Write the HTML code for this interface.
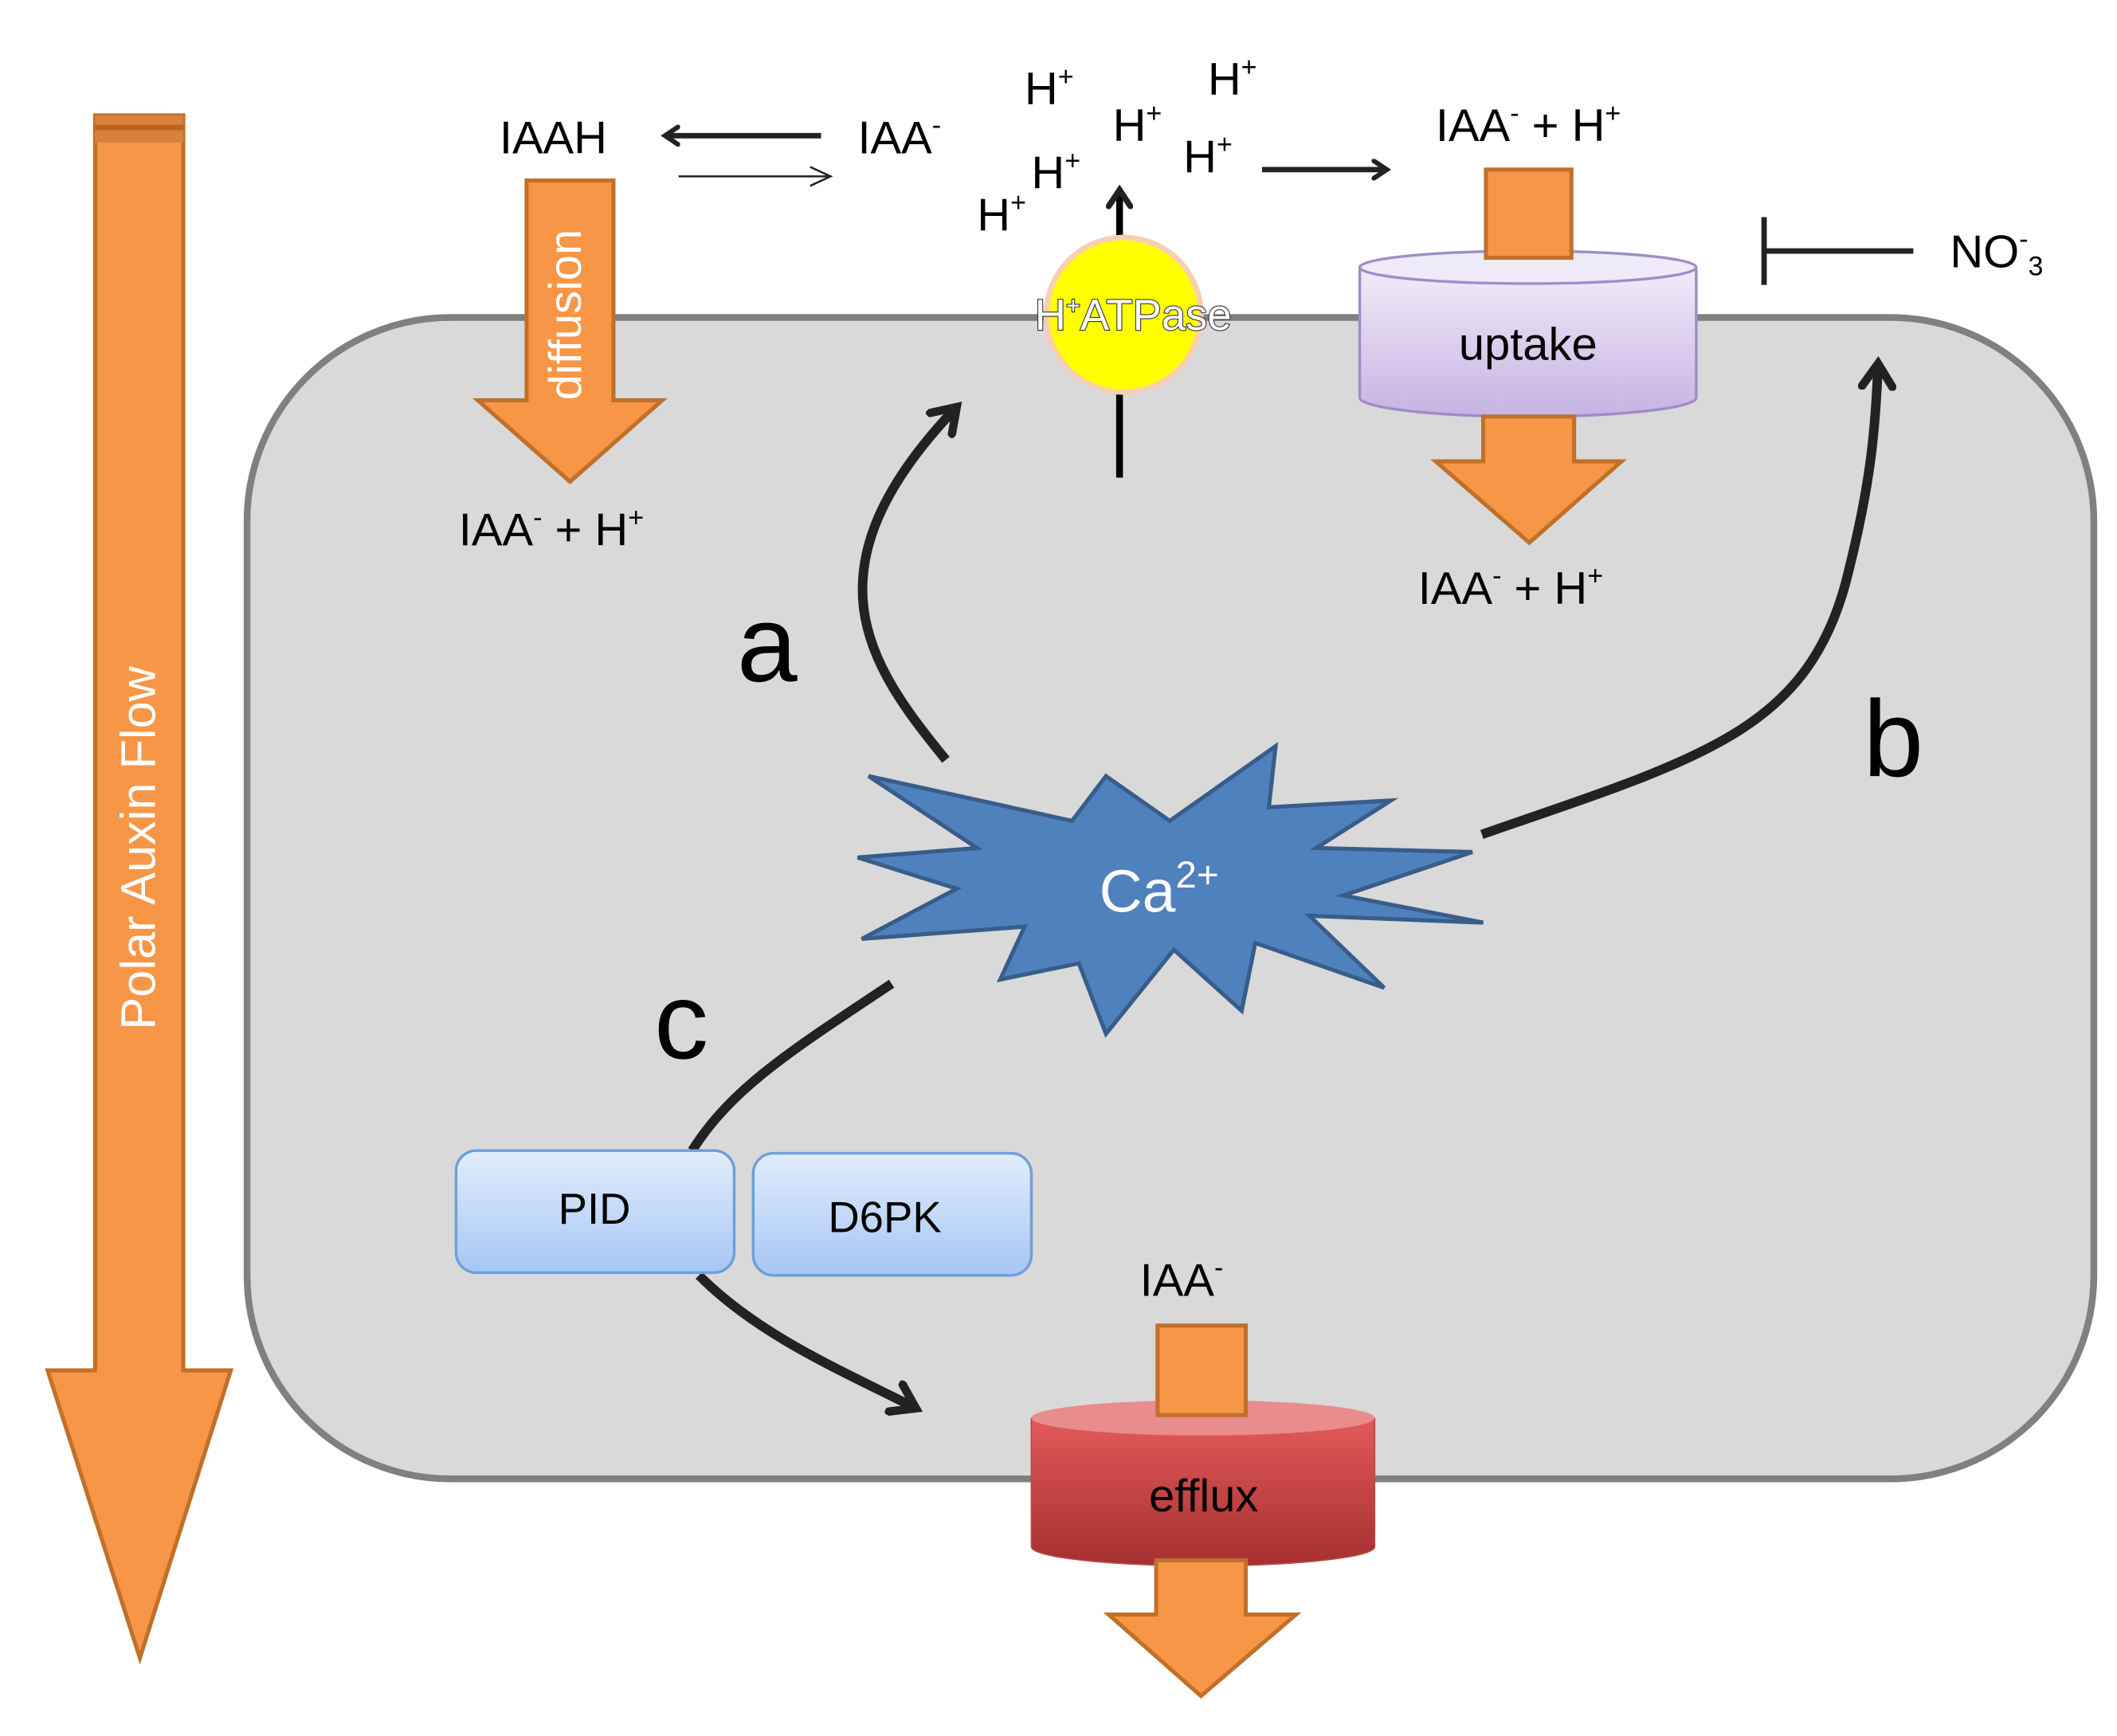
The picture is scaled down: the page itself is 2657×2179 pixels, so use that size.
<!DOCTYPE html>
<html><head><style>html,body{margin:0;padding:0;background:#fff}svg{display:block}</style></head>
<body>
<svg width="2657" height="2179" viewBox="0 0 1560 1279.5" xmlns="http://www.w3.org/2000/svg" font-family="'Liberation Sans', 'DejaVu Sans', sans-serif">
<defs>
<linearGradient id="pur" x1="0" y1="0" x2="0" y2="1"><stop offset="0" stop-color="#f1ecf8"/><stop offset="1" stop-color="#c6b3e2"/></linearGradient>
<linearGradient id="red" x1="0" y1="0" x2="0" y2="1"><stop offset="0" stop-color="#e35a5a"/><stop offset="1" stop-color="#a52f2f"/></linearGradient>
<linearGradient id="blu" x1="0" y1="0" x2="0" y2="1"><stop offset="0" stop-color="#e1edfc"/><stop offset="1" stop-color="#a6c6f4"/></linearGradient>
<marker id="ah" viewBox="0 0 10 10" refX="7" refY="5" markerWidth="4" markerHeight="4" orient="auto"><path d="M1,1 L7,5 L1,9" fill="none" stroke="#222" stroke-width="2.2" stroke-linecap="round"/></marker>
</defs>
<!-- polar auxin flow -->
<path d="M70,85 H135 V1010 H170 L103,1222 L35,1010 H70 Z" fill="#f79646" stroke="#c0702a" stroke-width="3"/>
<rect x="70" y="85" width="65" height="20" fill="#d9803a"/>
<rect x="70" y="92" width="65" height="4" fill="#b8661e"/>
<text transform="translate(114,625) rotate(-90)" text-anchor="middle" fill="#fff" font-size="36">Polar Auxin Flow</text>
<!-- cell -->
<rect x="182" y="234" width="1361" height="856" rx="150" fill="#d9d9d9" stroke="#808080" stroke-width="5"/>
<!-- top left -->
<text x="368" y="113" font-size="34">IAAH</text>
<line x1="605" y1="100" x2="490" y2="100" stroke="#222" stroke-width="4" marker-end="url(#ah)"/>
<line x1="500" y1="130" x2="610" y2="130" stroke="#222" stroke-width="1.5"/>
<path d="M597,123 L612,130 L597,137" fill="none" stroke="#222" stroke-width="1.5"/>
<text x="632" y="113" font-size="34">IAA<tspan font-size="20" dy="-14">-</tspan></text>
<path d="M388,133 H452 V295 H488 L420,355 L352,295 H388 Z" fill="#f79646" stroke="#c0702a" stroke-width="3"/>
<text transform="translate(428,232) rotate(-90)" text-anchor="middle" fill="#fff" font-size="34">diffusion</text>
<text x="338" y="402" font-size="34">IAA<tspan font-size="20" dy="-14">-</tspan><tspan dy="14"> + H</tspan><tspan font-size="20" dy="-14">+</tspan></text>
<!-- H+ -->
<g font-size="34">
<text x="755" y="77">H<tspan font-size="20" dy="-14">+</tspan></text>
<text x="890" y="70">H<tspan font-size="20" dy="-14">+</tspan></text>
<text x="820" y="104">H<tspan font-size="20" dy="-14">+</tspan></text>
<text x="760" y="139">H<tspan font-size="20" dy="-14">+</tspan></text>
<text x="872" y="127">H<tspan font-size="20" dy="-14">+</tspan></text>
<text x="720" y="170">H<tspan font-size="20" dy="-14">+</tspan></text>
</g>
<line x1="825" y1="178" x2="825" y2="140" stroke="#000" stroke-width="5" marker-end="url(#ah)"/>
<line x1="825" y1="290" x2="825" y2="352" stroke="#000" stroke-width="5"/>
<circle cx="828" cy="232" r="57" fill="#ffff00" stroke="#f8cfb0" stroke-width="4"/>
<text x="835" y="243" text-anchor="middle" font-size="32" fill="#fff" stroke="#333" stroke-width="1.3" paint-order="stroke">H<tspan font-size="18" dy="-12">+</tspan><tspan dy="12">ATPase</tspan></text>
<line x1="930" y1="125" x2="1022" y2="125" stroke="#222" stroke-width="4" marker-end="url(#ah)"/>
<text x="1058" y="104" font-size="34">IAA<tspan font-size="20" dy="-14">-</tspan><tspan dy="14"> + H</tspan><tspan font-size="20" dy="-14">+</tspan></text>
<!-- uptake -->
<path d="M1002,197 V293 A124,14 0 0 0 1250,293 V197" fill="url(#pur)" stroke="#a08cc8" stroke-width="2"/>
<ellipse cx="1126" cy="197" rx="124" ry="12" fill="#efeaf7" stroke="#a08cc8" stroke-width="2"/>
<rect x="1095" y="125" width="63" height="65" fill="#f79646" stroke="#c0702a" stroke-width="3"/>
<text x="1126" y="265" text-anchor="middle" font-size="34">uptake</text>
<path d="M1093,307 H1160 V340 H1195 L1127,400 L1058,340 H1093 Z" fill="#f79646" stroke="#c0702a" stroke-width="3"/>
<text x="1045" y="445" font-size="34">IAA<tspan font-size="20" dy="-14">-</tspan><tspan dy="14"> + H</tspan><tspan font-size="20" dy="-14">+</tspan></text>
<!-- inhibition -->
<line x1="1300" y1="185" x2="1410" y2="185" stroke="#222" stroke-width="4"/>
<line x1="1300" y1="160" x2="1300" y2="210" stroke="#222" stroke-width="4"/>
<text x="1437" y="197" font-size="34">NO<tspan font-size="20" dy="-14">-</tspan><tspan font-size="20" dy="20">3</tspan></text>
<!-- curves -->
<path d="M697,560 C640,490 590,420 705,300" fill="none" stroke="#222" stroke-width="7" marker-end="url(#ah)"/>
<text x="543" y="502" font-size="80">a</text>
<path d="M1092,615 C1250,560 1330,540 1360,430 C1378,360 1382,320 1384,268" fill="none" stroke="#222" stroke-width="7" marker-end="url(#ah)"/>
<text x="1373" y="572" font-size="80">b</text>
<path d="M657,725 C590,770 540,800 510,848" fill="none" stroke="#222" stroke-width="7"/>
<text x="482" y="780" font-size="80">c</text>
<path d="M515,940 C560,985 620,1010 675,1038" fill="none" stroke="#222" stroke-width="7" marker-end="url(#ah)"/>
<!-- star -->
<path d="M640,572 L790,605 L815,572 L862,605 L940,550 L935,595 L1025,590 L970,625 L1085,628 L990,660 L1093,680 L965,675 L1020,728 L925,695 L915,745 L865,700 L815,762 L795,710 L737,722 L755,683 L635,692 L705,655 L632,632 L720,625 Z" fill="#4f81bd" stroke="#385d8a" stroke-width="3"/>
<text x="810" y="672" font-size="44" fill="#fff">Ca<tspan font-size="28" dy="-18">2+</tspan></text>
<!-- PID D6PK -->
<rect x="336" y="848" width="205" height="90" rx="15" fill="url(#blu)" stroke="#6f9fd8" stroke-width="2"/>
<text x="438" y="902" text-anchor="middle" font-size="32">PID</text>
<rect x="555" y="850" width="205" height="90" rx="15" fill="url(#blu)" stroke="#6f9fd8" stroke-width="2"/>
<text x="652" y="908" text-anchor="middle" font-size="32">D6PK</text>
<!-- efflux -->
<text x="840" y="955" font-size="34">IAA<tspan font-size="20" dy="-14">-</tspan></text>
<path d="M760,1045 V1140 A126.5,14 0 0 0 1013,1140 V1045" fill="url(#red)" stroke="#b84a4a" stroke-width="1"/>
<ellipse cx="886.5" cy="1045" rx="126.5" ry="13" fill="#e88c8c"/>
<rect x="853" y="977" width="65" height="66" fill="#f79646" stroke="#c0702a" stroke-width="3"/>
<text x="887" y="1114" text-anchor="middle" font-size="34">efflux</text>
<path d="M852,1150 H918 V1190 H955 L885,1250 L817,1190 H852 Z" fill="#f79646" stroke="#c0702a" stroke-width="3"/>
</svg>
</body></html>
